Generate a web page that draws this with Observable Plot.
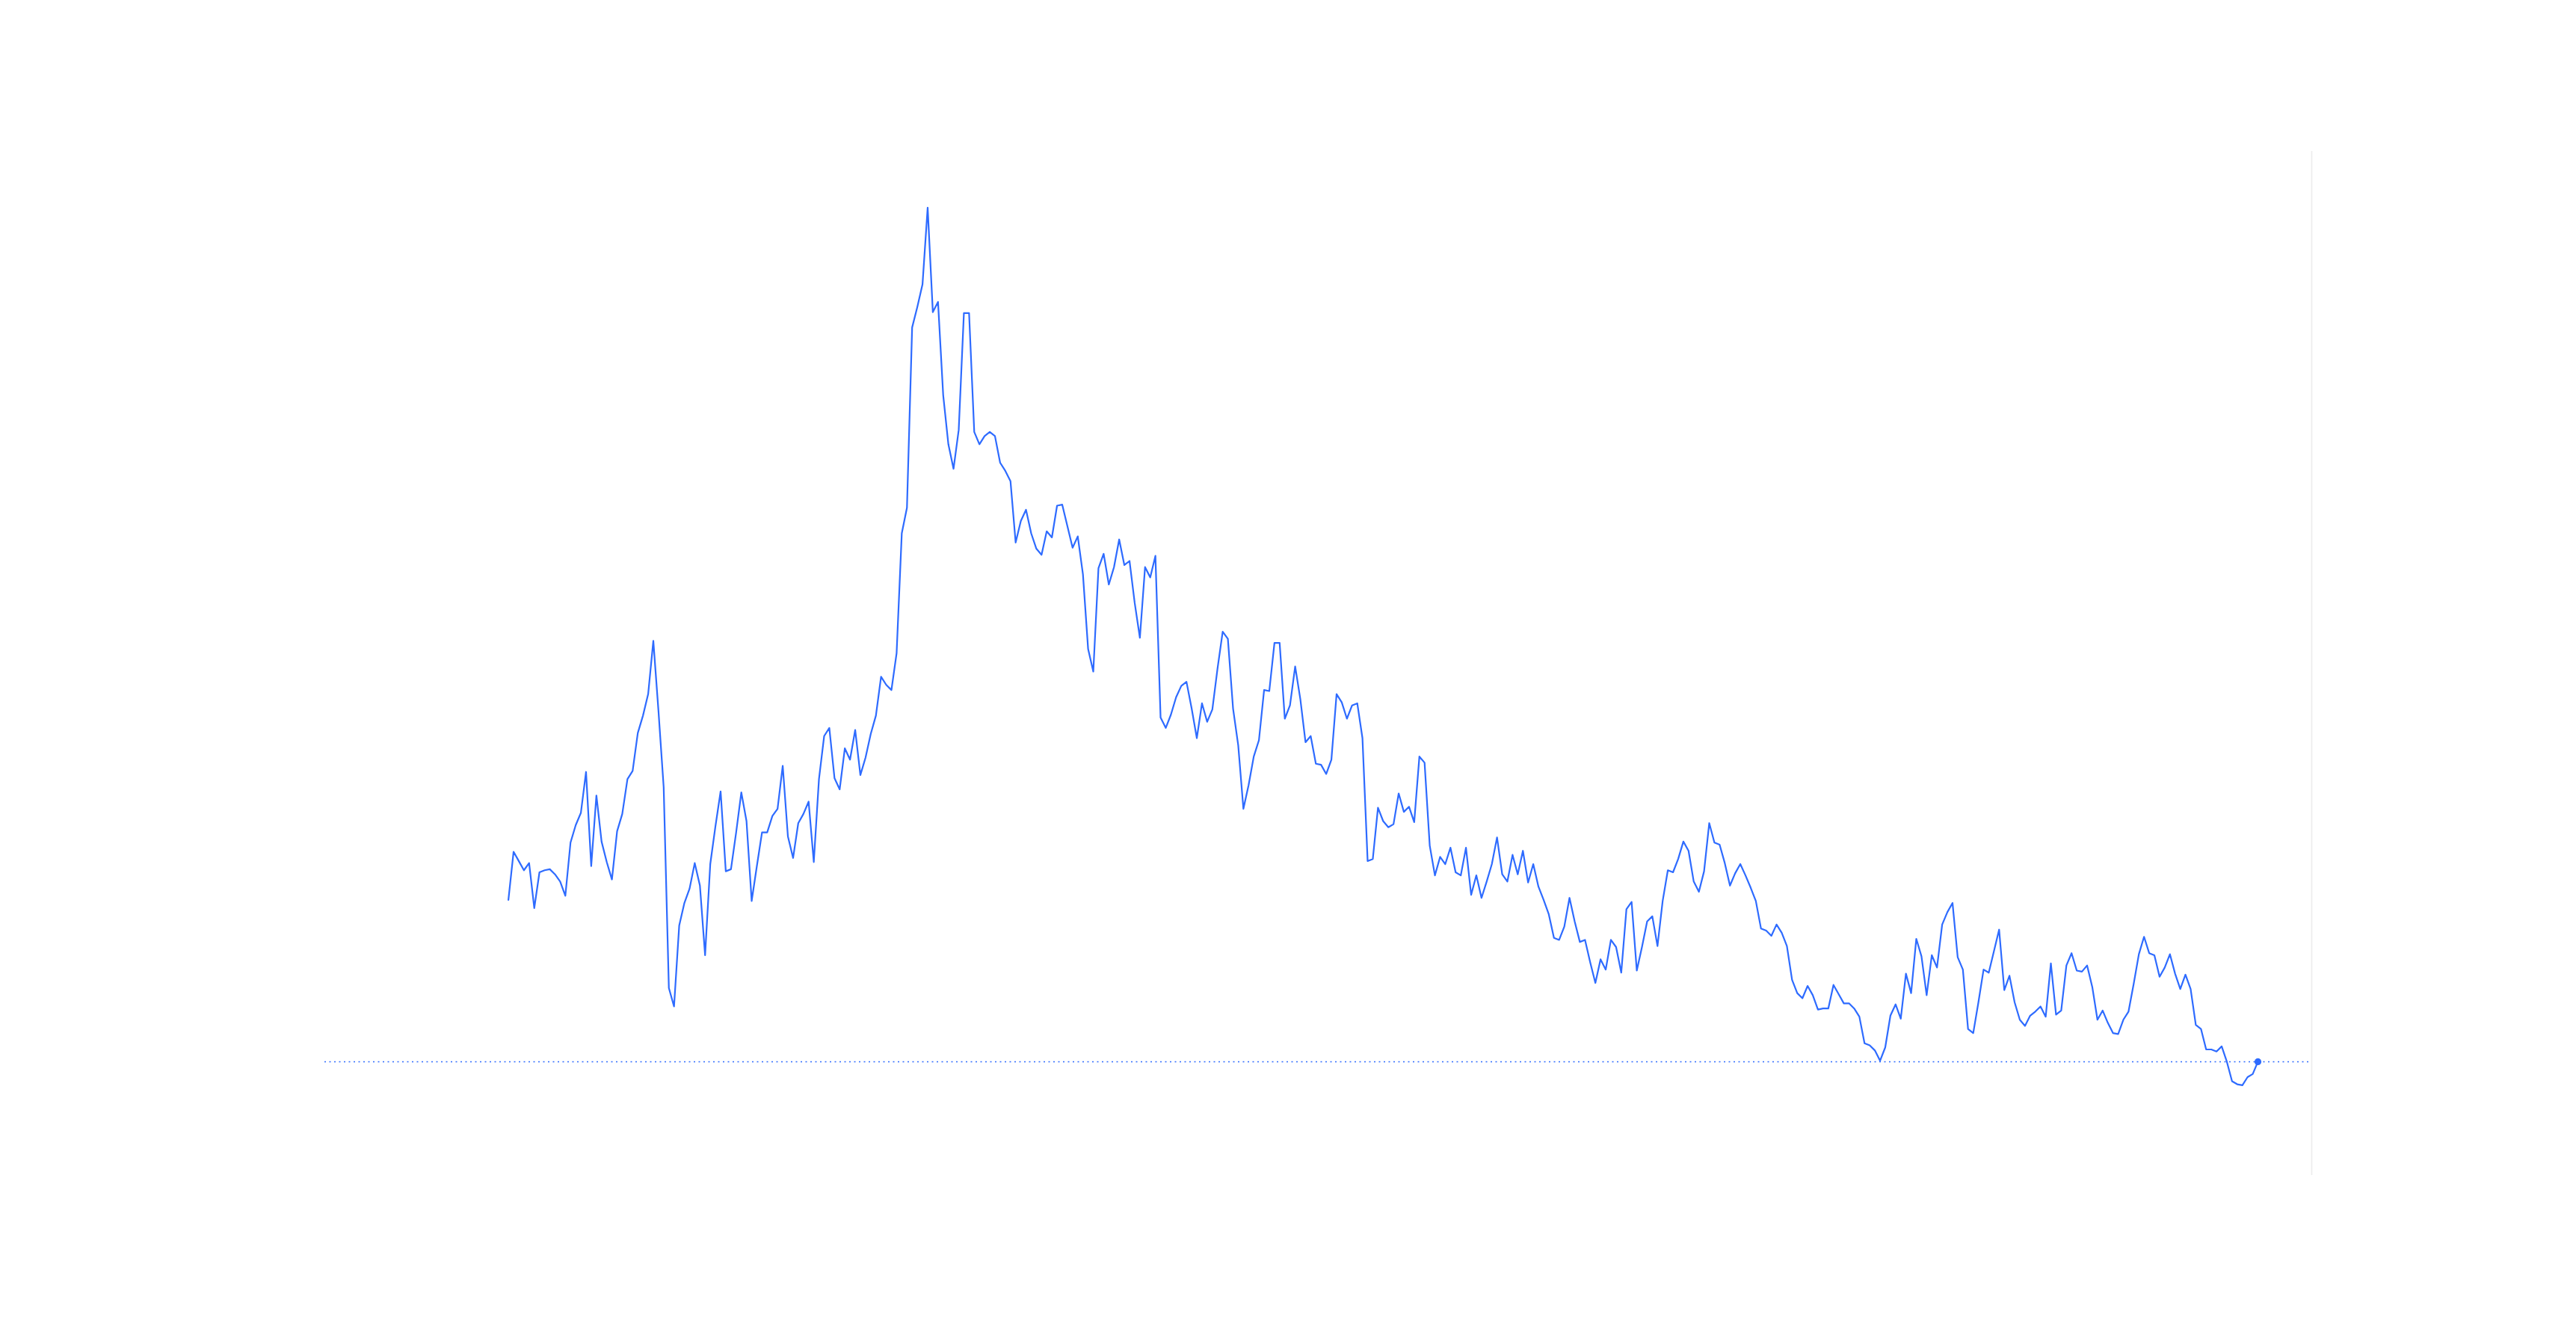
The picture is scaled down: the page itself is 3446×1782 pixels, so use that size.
<!DOCTYPE html>
<html>
<head>
<meta charset="utf-8">
<script src="https://cdn.jsdelivr.net/npm/d3@7"></script>
<script src="https://cdn.jsdelivr.net/npm/@observablehq/plot@0.6"></script>
<style>
  html, body { margin: 0; padding: 0; background: #ffffff; overflow: hidden; }
  #chart svg { display: block; }
</style>
</head>
<body>
<div id="chart"></div>
<script>
// Monthly series (arbitrary units), one value per month
const values = [
  26.9, 31.6, 30.7, 29.8, 30.5, 26.1, 29.6, 29.8, 29.9, 29.4,
  28.7, 27.3, 32.5, 34.2, 35.4, 39.4, 30.2, 37.1, 32.6, 30.6,
  28.9, 33.6, 35.3, 38.7, 39.5, 43.2, 44.9, 47.0, 52.2, 45.3,
  37.9, 18.3, 16.5, 24.4, 26.6, 28.0, 30.5, 28.3, 21.5, 30.4,
  34.1, 37.5, 29.7, 29.9, 33.5, 37.4, 34.6, 26.8, 30.2, 33.5,
  33.5, 35.1, 35.8, 40.0, 33.1, 31.0, 34.4, 35.3, 36.5, 30.6,
  38.7, 42.9, 43.7, 38.8, 37.7, 41.7, 40.6, 43.5, 39.1, 40.8,
  43.1, 44.9, 48.7, 47.9, 47.4, 51.0, 62.7, 65.2, 82.8, 84.8,
  87.0, 94.5, 84.3, 85.3, 76.2, 71.4, 69.0, 72.8, 84.2, 84.2,
  72.6, 71.4, 72.2, 72.6, 72.2, 69.6, 68.8, 67.8, 61.8, 63.9,
  65.0, 62.7, 61.2, 60.6, 62.9, 62.3, 65.4, 65.5, 63.4, 61.3,
  62.4, 58.7, 51.4, 49.2, 59.3, 60.7, 57.7, 59.4, 62.1, 59.6,
  60.0, 55.9, 52.5, 59.4, 58.4, 60.5, 44.7, 43.7, 45.0, 46.7,
  47.8, 48.2, 45.6, 42.7, 46.1, 44.3, 45.5, 49.5, 53.1, 52.4,
  45.6, 42.0, 35.8, 38.1, 40.9, 42.5, 47.4, 47.3, 52.0, 52.0,
  44.6, 45.9, 49.7, 46.5, 42.3, 42.9, 40.2, 40.1, 39.2, 40.6,
  47.0, 46.2, 44.6, 45.9, 46.1, 42.7, 30.7, 30.9, 35.9, 34.6,
  34.0, 34.3, 37.3, 35.5, 36.0, 34.5, 40.9, 40.3, 32.2, 29.3,
  31.1, 30.4, 32.0, 29.6, 29.3, 32.0, 27.4, 29.3, 27.1, 28.7,
  30.4, 33.0, 29.4, 28.7, 31.3, 29.4, 31.7, 28.6, 30.4, 28.2,
  26.9, 25.5, 23.2, 23.0, 24.3, 27.1, 24.8, 22.8, 23.0, 20.8,
  18.8, 21.1, 20.1, 23.0, 22.3, 19.8, 26.0, 26.7, 20.0, 22.3,
  24.8, 25.3, 22.4, 26.8, 29.8, 29.6, 30.9, 32.6, 31.7, 28.7,
  27.7, 29.7, 34.4, 32.5, 32.3, 30.5, 28.3, 29.5, 30.4, 29.3,
  28.1, 26.8, 24.1, 23.9, 23.4, 24.5, 23.7, 22.4, 19.1, 17.8,
  17.3, 18.5, 17.6, 16.2, 16.3, 16.3, 18.6, 17.7, 16.8, 16.8,
  16.3, 15.5, 12.9, 12.7, 12.2, 11.2, 12.5, 15.6, 16.7, 15.3,
  19.7, 17.8, 23.1, 21.4, 17.6, 21.5, 20.3, 24.5, 25.7, 26.6,
  21.3, 20.1, 14.3, 13.9, 16.9, 20.1, 19.8, 21.9, 24.0, 18.1,
  19.5, 16.9, 15.2, 14.6, 15.6, 16.0, 16.5, 15.5, 20.7, 15.7,
  16.1, 20.5, 21.7, 20.0, 19.9, 20.5, 18.4, 15.2, 16.1, 14.9,
  13.9, 13.8, 15.2, 16.0, 18.7, 21.6, 23.3, 21.7, 21.5, 19.4,
  20.3, 21.6, 19.7, 18.2, 19.6, 18.2, 14.7, 14.3, 12.3, 12.3,
  12.1, 12.6, 11.1, 9.2, 8.9, 8.8, 9.6, 9.9, 11.1
];

// Month index of each value (0 = first month of the series)
const months = values.map((_, i) => i);

// Scale settings (in months / value units)
const xDomain = [-35.47, 348.4];
const yDomain = [0, 100];

const blue = "#2e6bff";
const table = months.map((m, i) => ({month: m, value: values[i]}));
const last = table[table.length - 1];

const chart = Plot.plot({
  width: 3446,
  height: 1782,
  marginLeft: 434,
  marginRight: 354,
  marginTop: 202,
  marginBottom: 210,
  style: {background: "#ffffff"},
  x: {type: "linear", domain: xDomain, axis: null},
  y: {type: "linear", domain: yDomain, axis: null},
  marks: [
    Plot.ruleX([xDomain[1]], {stroke: "#ececec", strokeWidth: 1.6}),
    Plot.ruleY([last.value], {stroke: blue, strokeWidth: 1.6, strokeDasharray: "2,4.5"}),
    Plot.lineY(table, {x: "month", y: "value", stroke: blue, strokeWidth: 2.2, strokeLinejoin: "round"}),
    Plot.dot([last], {x: "month", y: "value", r: 4.6, fill: blue, stroke: "none"})
  ]
});
document.getElementById("chart").appendChild(chart);
</script>
</body>
</html>
